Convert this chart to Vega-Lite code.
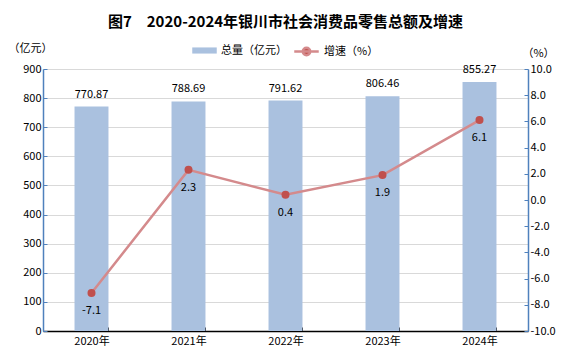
{
  "$schema": "https://vega.github.io/schema/vega-lite/v6.json",
  "width": 485,
  "height": 262,
  "autosize": {"type": "none"},
  "padding": {"left": 43, "top": 69, "right": 48, "bottom": 32},
  "background": "white",
  "title": {
    "text": "图7　2020-2024年银川市社会消费品零售总额及增速",
    "font": "Noto Sans CJK SC",
    "fontSize": 15,
    "fontWeight": "bold",
    "color": "#000000",
    "anchor": "middle",
    "offset": 8
  },
  "config": {
    "font": "Noto Sans CJK SC",
    "view": {"stroke": null},
    "locale": {
      "number": {"decimal": ".", "thousands": ",", "grouping": [3], "currency": ["", ""], "minus": "-"}
    },
    "legend": {
      "layout": {"top": {"anchor": "middle", "direction": "horizontal", "margin": 6}}
    }
  },
  "data": {
    "values": [
      {"year": "2020年", "total": 770.87, "growth": -7.1, "s1": "总量（亿元）", "s2": "增速（%）"},
      {"year": "2021年", "total": 788.69, "growth": 2.3, "s1": "总量（亿元）", "s2": "增速（%）"},
      {"year": "2022年", "total": 791.62, "growth": 0.4, "s1": "总量（亿元）", "s2": "增速（%）"},
      {"year": "2023年", "total": 806.46, "growth": 1.9, "s1": "总量（亿元）", "s2": "增速（%）"},
      {"year": "2024年", "total": 855.27, "growth": 6.1, "s1": "总量（亿元）", "s2": "增速（%）"}
    ]
  },
  "encoding": {
    "x": {
      "field": "year",
      "type": "nominal",
      "sort": null,
      "scale": {"paddingInner": 0.65, "paddingOuter": 0.325},
      "axis": {
        "title": null,
        "labelAngle": 0,
        "labelFontSize": 11,
        "labelColor": "#000000",
        "labelPadding": 8,
        "domainColor": "#000000",
        "domainWidth": 1.5,
        "tickColor": "#000000",
        "tickBand": "extent",
        "tickSize": -4,
        "grid": false
      }
    }
  },
  "layer": [
    {
      "mark": {"type": "bar", "color": "#AAC1DF"},
      "encoding": {
        "y": {
          "field": "total",
          "type": "quantitative",
          "scale": {"domain": [0, 900]},
          "axis": {
            "title": "（亿元）",
            "titleAngle": 0,
            "titleX": -13,
            "titleY": -21,
            "titleAlign": "center",
            "titleBaseline": "middle",
            "titleFontSize": 11,
            "titleFontWeight": "normal",
            "titleColor": "#000000",
            "values": [0, 100, 200, 300, 400, 500, 600, 700, 800, 900],
            "labelFontSize": 11,
            "labelColor": "#000000",
            "labelPadding": 6,
            "domainColor": "#4F81BD",
            "domainWidth": 1.5,
            "tickColor": "#4F81BD",
            "tickSize": -4,
            "gridColor": "#D9D9D9",
            "gridWidth": 1
          }
        },
        "color": {
          "field": "s1",
          "type": "nominal",
          "scale": {"range": ["#AAC1DF"]},
          "legend": {
            "title": null,
            "orient": "top",
            "offset": 8,
            "symbolType": "M-1,-0.25H1V0.25H-1Z",
            "symbolSize": 600,
            "symbolStrokeWidth": 0,
            "labelFontSize": 11,
            "labelColor": "#000000"
          }
        }
      }
    },
    {
      "mark": {"type": "text", "dy": -12, "fontSize": 11, "color": "#000000"},
      "encoding": {
        "y": {"field": "total", "type": "quantitative", "scale": {"domain": [0, 900]}, "axis": null},
        "text": {"field": "total", "type": "quantitative", "format": ".2f"}
      }
    },
    {
      "mark": {"type": "line", "strokeWidth": 2.5},
      "encoding": {
        "y": {
          "field": "growth",
          "type": "quantitative",
          "scale": {"domain": [-10, 10]},
          "axis": {
            "orient": "right",
            "title": "（%）",
            "titleAngle": 0,
            "titleX": 10,
            "titleY": -16,
            "titleAlign": "center",
            "titleBaseline": "middle",
            "titleFontSize": 11,
            "titleFontWeight": "normal",
            "titleColor": "#000000",
            "values": [-10, -8, -6, -4, -2, 0, 2, 4, 6, 8, 10],
            "format": ".1f",
            "labelFontSize": 11,
            "labelColor": "#000000",
            "labelPadding": 6,
            "domainColor": "#4F81BD",
            "domainWidth": 1.5,
            "tickColor": "#4F81BD",
            "tickSize": -4,
            "grid": false
          }
        },
        "stroke": {
          "field": "s2",
          "type": "nominal",
          "scale": {"range": ["#D48A8C"]},
          "legend": {
            "title": null,
            "orient": "top",
            "offset": 8,
            "symbolType": "M-1,0H1M0.3,0A0.3,0.3,0,1,1,-0.3,0A0.3,0.3,0,1,1,0.3,0",
            "symbolSize": 600,
            "symbolFillColor": "#C0504D",
            "symbolStrokeWidth": 2.5,
            "labelFontSize": 11,
            "labelColor": "#000000"
          }
        }
      }
    },
    {
      "mark": {"type": "point", "filled": true, "color": "#C0504D", "size": 64, "opacity": 1},
      "encoding": {
        "y": {"field": "growth", "type": "quantitative", "scale": {"domain": [-10, 10]}, "axis": null}
      }
    },
    {
      "mark": {"type": "text", "dy": 18, "fontSize": 11, "color": "#000000"},
      "encoding": {
        "y": {"field": "growth", "type": "quantitative", "scale": {"domain": [-10, 10]}, "axis": null},
        "text": {"field": "growth", "type": "quantitative", "format": ".1f"}
      }
    }
  ],
  "resolve": {"scale": {"y": "independent"}}
}
